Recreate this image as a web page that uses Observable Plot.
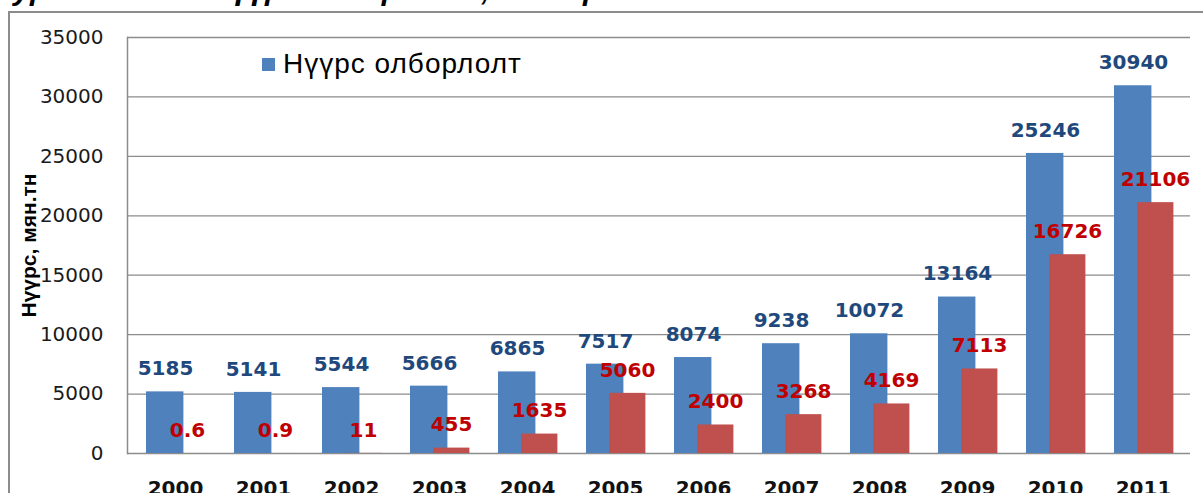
<!DOCTYPE html>
<html>
<head>
<meta charset="utf-8">
<script src="https://cdn.jsdelivr.net/npm/d3@7"></script>
<script src="https://cdn.jsdelivr.net/npm/@observablehq/plot@0.6"></script>
<style>
  html, body { margin: 0; padding: 0; background: #fff; overflow: hidden; width: 1203px; height: 493px; }
  #wrap { position: relative; width: 1203px; height: 493px; overflow: hidden; }
  #border { position: absolute; left: 8px; top: 11px; width: 1400px; height: 700px;
            border-left: 2px solid #8c8c8c; border-top: 2px solid #8c8c8c; box-sizing: border-box; }
  .title { position: absolute; top: -25px; font: italic bold 30px "Liberation Sans", Arial, sans-serif; color: #000; white-space: nowrap; line-height: 30px; }
  #chart { position: absolute; left: 0; top: 0; }
  #legend { position: absolute; left: 262px; top: 48px; font: 28px "Liberation Sans", Arial, sans-serif; letter-spacing: 1px; color: #000; display: flex; align-items: center; white-space: nowrap; }
  #legend .sw { width: 13px; height: 13px; background: #4F81BD; margin-right: 8px; }
</style>
</head>
<body>
<div id="wrap">
  <div class="title" style="left:-6px">Зураг 1.</div>
  <div class="title" style="left:210px">Нүүрс олборлолт, экспорт</div>
  <div id="border"></div>
  <div id="chart"></div>
  <div id="legend"><span class="sw"></span><span id="legtext"></span></div>
</div>
<script>
const years = ["2000","2001","2002","2003","2004","2005","2006","2007","2008","2009","2010","2011"];
const production = [5185, 5141, 5544, 5666, 6865, 7517, 8074, 9238, 10072, 13164, 25246, 30940];
const exportVals = [0.6, 0.9, 11, 455, 1635, 5060, 2400, 3268, 4169, 7113, 16726, 21106];
const seriesNames = ["Нүүрс олборлолт"];
const yTicks = [0, 5000, 10000, 15000, 20000, 25000, 30000, 35000];
const yLabel = "Нүүрс, мян.тн";

const data = years.map((y, i) => ({year: y, production: production[i], exportV: exportVals[i]}));

document.getElementById("legtext").textContent = seriesNames[0];

const blue = "#4F81BD", red = "#C0504D";
const chart = Plot.plot({
  width: 1203,
  height: 493,
  marginLeft: 127,
  marginRight: 13,
  marginTop: 37,
  marginBottom: 40,
  style: {background: "transparent", fontFamily: "DejaVu Sans, Verdana, sans-serif", overflow: "visible"},
  x: {domain: years, padding: 0, axis: null},
  y: {domain: [0, 35000], axis: null},
  marks: [
    Plot.gridY(yTicks, {stroke: "#8c8c8c", strokeOpacity: 1, strokeWidth: 1.3}),
    Plot.frame({anchor: "left", stroke: "#8c8c8c", strokeWidth: 1.5}),
    Plot.axisY(yTicks, {tickSize: 0, tickPadding: 24, fontSize: 20, fill: "#1a1a1a", label: null, tickFormat: d => String(d)}),
    Plot.axisX({tickSize: 0, tickPadding: 27, fontSize: 20, fontWeight: "bold", fill: "#111", label: null, lineAnchor: "top"}),
    Plot.barY(data, {x: "year", y: "production", fill: blue, insetLeft: 15, insetRight: 35.6}),
    Plot.barY(data, {x: "year", y: "exportV", fill: red, insetLeft: 38, insetRight: 13.6}),
    Plot.text(data, {x: "year", y: "production", text: d => String(d.production), dx: -10, dy: -23,
      fill: "#1F497D", fontWeight: "bold", fontSize: 20, lineAnchor: "middle"}),
    Plot.text(data, {x: "year", y: "exportV", text: d => String(d.exportV), dx: 12, dy: -23,
      fill: "#C00000", fontWeight: "bold", fontSize: 20, lineAnchor: "middle"}),
    Plot.text([yLabel], {frameAnchor: "left", rotate: -90, dx: -98, dy: 0, text: d => d,
      fontSize: 21, fontWeight: "bold", fontFamily: "Liberation Sans, Arial, sans-serif", fill: "#000", lineAnchor: "middle", textAnchor: "middle"})
  ]
});
document.getElementById("chart").appendChild(chart);
</script>
</body>
</html>
